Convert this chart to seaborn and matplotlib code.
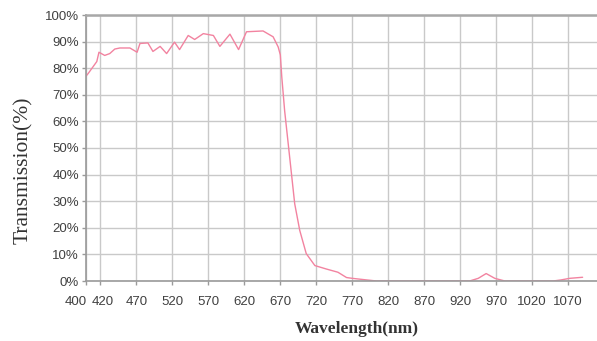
import numpy as np
import pandas as pd
import seaborn as sns
import matplotlib.pyplot as plt
from matplotlib.transforms import ScaledTranslation

# Data
wavelength = [400, 403, 415, 418, 426, 433, 440, 447, 461, 471, 475, 486, 493, 503, 512,
              523, 530, 542, 551, 563, 577, 586, 600, 612, 623, 646, 660, 667, 670, 672,
              676, 681, 686, 690, 697, 706, 718, 734, 750, 762, 770, 790, 804, 850, 900,
              933, 945, 956, 968, 982, 1020, 1049, 1060, 1072, 1090]
transmission = [77.0, 78.0, 82.5, 86.0, 84.8, 85.5, 87.2, 87.6, 87.6, 86.0, 89.3, 89.5, 86.3,
                88.2, 85.5, 89.8, 87.0, 92.3, 90.8, 93.0, 92.3, 88.2, 92.8, 87.0, 93.7,
                94.0, 91.8, 88.0, 85.0, 76.8, 64.0, 51.5, 39.0, 29.0, 19.0, 10.3, 5.8, 4.5,
                3.3, 1.3, 1.0, 0.4, 0.0, 0.0, 0.0, 0.0, 1.0, 2.8, 1.0, 0.0, 0.0, 0.0,
                0.4, 1.0, 1.4]
xticks = [400, 420, 470, 520, 570, 620, 670, 720, 770, 820, 870, 920, 970, 1020, 1070]
yticks = [0, 10, 20, 30, 40, 50, 60, 70, 80, 90, 100]

df = pd.DataFrame({'Wavelength': wavelength, 'Transmission': transmission})

sns.set_style("white")
plt.rcParams['font.family'] = ['Liberation Sans', 'DejaVu Sans']

fig = plt.figure(figsize=(5.97, 3.41), dpi=100)
ax = fig.add_axes([86 / 597, 60 / 341, 511 / 597, 266 / 341])

sns.lineplot(data=df, x='Wavelength', y='Transmission', ax=ax,
             color='#f283a0', linewidth=1.0)

ax.set_xlim(400, 1110)
ax.set_ylim(0, 100)
ax.set_xticks(xticks)
ax.set_yticks(yticks)
ax.set_yticklabels([f'{v}%' for v in yticks])
ax.grid(True, color='#c9c9c9', linewidth=1.0)
ax.set_axisbelow(True)

for s in ['left', 'bottom']:
    ax.spines[s].set_color('#9a9a9a')
    ax.spines[s].set_linewidth(1.2)
ax.spines['top'].set_color('#a8a8a8')
ax.spines['top'].set_linewidth(1.8)
ax.spines['right'].set_visible(False)

ax.tick_params(axis='y', length=3, width=1, color='#9a9a9a',
               labelsize=9.5, labelcolor='#404040', pad=2, direction='out', left=True)
ax.tick_params(axis='x', length=3, width=1, color='#9a9a9a',
               labelsize=9.5, labelcolor='#404040', pad=8, direction='out', bottom=True)

# crowded first two labels: nudge apart like the original
labels = ax.get_xticklabels()
labels[0].set_transform(labels[0].get_transform() + ScaledTranslation(-10 / 100, 0, fig.dpi_scale_trans))
labels[1].set_transform(labels[1].get_transform() + ScaledTranslation(2 / 100, 0, fig.dpi_scale_trans))

ax.set_xlabel('Wavelength(nm)', family='Liberation Serif', fontsize=12.5,
              fontweight='bold', color='#333333')
ax.xaxis.set_label_coords(0.530, -0.152)
ax.set_ylabel('Transmission(%)', family='Liberation Serif', fontsize=15.5,
              color='#333333')
ax.yaxis.set_label_coords(-0.104, 0.417)

plt.savefig('out.png', dpi=100)
plt.close()
